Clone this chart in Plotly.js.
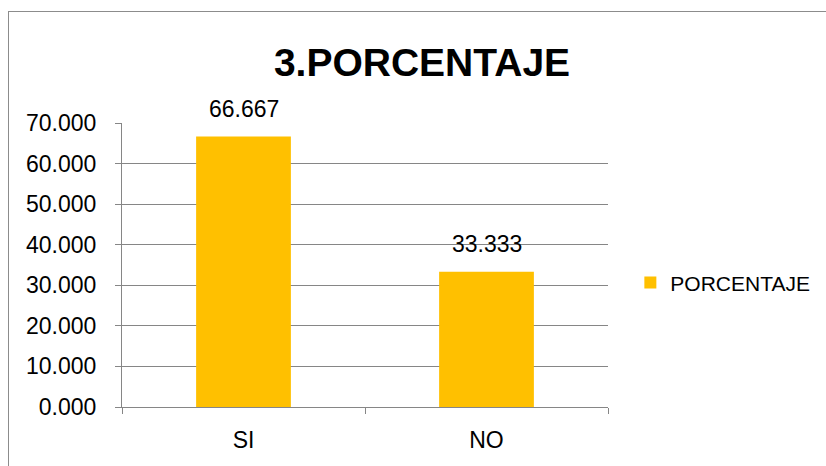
<!DOCTYPE html>
<html><head><meta charset="utf-8">
<script src="https://cdn.plot.ly/plotly-3.0.1.min.js"></script>
<style>
html,body{margin:0;padding:0;background:#fff;overflow:hidden}
#frame{position:absolute;left:8px;top:11px;width:900px;height:600px;border:1px solid #8c8c8c;box-sizing:border-box}
#chart{position:absolute;left:0;top:0;width:826px;height:466px}
</style></head>
<body>
<div id="frame"></div>
<div id="chart"></div>
<script>
const categories = ["SI", "NO"];
const values = [66.667, 33.333];
const seriesName = "PORCENTAJE";
const chartTitle = "3.PORCENTAJE";
const tickVals = [0, 10, 20, 30, 40, 50, 60, 70];

const font = "Liberation Sans, Arial, sans-serif";
const trace = {
  type: "bar", x: categories, y: values, name: seriesName,
  marker: {color: "#FFC000"}, hoverinfo: "none"
};
const annotations = categories.map((c, i) => ({
  x: c, y: values[i], xref: "x", yref: "y", text: values[i].toFixed(3),
  showarrow: false, yanchor: "bottom", yshift: 13,
  font: {family: font, size: 23, color: "#000"}
}));
const layout = {
  width: 826, height: 466,
  margin: {l: 122, r: 218, t: 123, b: 59, pad: 0, autoexpand: false},
  paper_bgcolor: "rgba(0,0,0,0)", plot_bgcolor: "rgba(0,0,0,0)",
  showlegend: true,
  title: {text: "<b>" + chartTitle + "</b>", x: 422/826, xref: "container", xanchor: "center",
          y: 1 - 62/466, yref: "container", yanchor: "middle",
          font: {family: font, size: 39, color: "#000"}},
  bargap: 0.61,
  xaxis: {type: "category", showline: true, linecolor: "#868686", linewidth: 1,
          ticks: "outside", tickson: "boundaries", ticklen: 6, tickcolor: "#868686",
          showgrid: false, tickfont: {family: font, size: 23, color: "#000"}, ticklabelstandoff: 12},
  yaxis: {range: [0, 70], tickvals: tickVals, ticktext: tickVals.map(v => v.toFixed(3)),
          showline: true, linecolor: "#868686", linewidth: 1, ticks: "outside", ticklen: 6,
          tickcolor: "#868686", showgrid: true, gridcolor: "#868686", gridwidth: 1,
          zeroline: false, tickfont: {family: font, size: 23, color: "#000"}, ticklabelstandoff: 14},
  legend: {x: 1.046, xanchor: "left", y: 0.437, yanchor: "middle", font: {family: font, size: 21, color: "#000"},
           bgcolor: "rgba(0,0,0,0)"},
  annotations: annotations
};
Plotly.newPlot("chart", [trace], layout, {displayModeBar: false, staticPlot: true});
</script>
</body></html>
